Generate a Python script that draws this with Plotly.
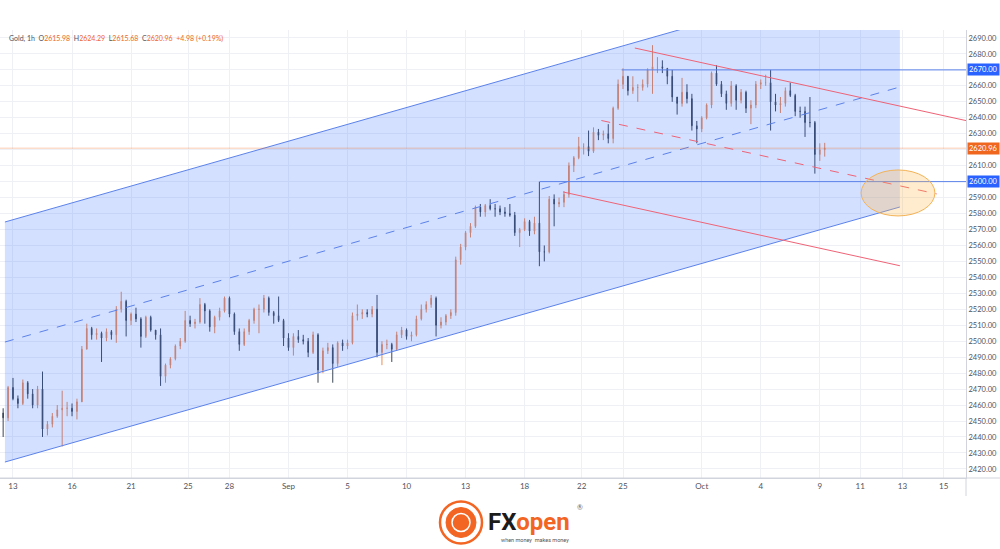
import plotly.graph_objects as go

# ---------------- data (6-hour bars) ----------------
first_open = 2455.0
closes = [2452, 2471, 2464, 2461, 2474, 2467, 2460, 2470, 2445, 2448,
          2453, 2457, 2458, 2458, 2456, 2462, 2495, 2508, 2504, 2505,
          2502, 2506, 2504, 2520, 2525, 2513, 2517, 2514, 2503, 2515,
          2507, 2504, 2478, 2485, 2489, 2497, 2500, 2513, 2511, 2512,
          2523, 2519, 2509, 2515, 2519, 2527, 2517, 2506, 2498, 2506,
          2513, 2520, 2520, 2527, 2518, 2516, 2513, 2502, 2496, 2503,
          2501, 2500, 2493, 2504, 2482, 2494, 2496, 2486, 2499, 2497,
          2499, 2516, 2517, 2518, 2517, 2520, 2493, 2498, 2498, 2495,
          2504, 2507, 2503, 2504, 2514, 2520, 2523, 2527, 2510, 2512,
          2516, 2518, 2551, 2559, 2568, 2572, 2584, 2581, 2585, 2583,
          2583, 2581, 2580, 2579, 2568, 2570, 2575, 2569, 2574, 2556,
          2556, 2589, 2586, 2587, 2592, 2610, 2615, 2622, 2622, 2619,
          2631, 2629, 2630, 2627, 2646, 2661, 2666, 2657, 2659, 2659,
          2661, 2670, 2672, 2672, 2671, 2666, 2653, 2649, 2656, 2652,
          2635, 2633, 2640, 2648, 2668, 2661, 2655, 2649, 2660, 2651,
          2656, 2646, 2648, 2661, 2662, 2662, 2650, 2648, 2649, 2657,
          2654, 2644, 2644, 2637, 2637, 2617, 2620, 2620.96]
highs = [2458, 2472, 2477, 2466, 2476, 2475, 2470, 2472, 2481, 2450,
         2455, 2460, 2469, 2462, 2461, 2464, 2497, 2511, 2509, 2508,
         2506, 2508, 2507, 2522, 2531, 2526, 2518, 2521, 2515, 2516,
         2516, 2507, 2508, 2486, 2490, 2498, 2502, 2519, 2516, 2514,
         2527, 2524, 2520, 2516, 2521, 2528, 2528, 2518, 2508, 2508,
         2514, 2521, 2523, 2529, 2528, 2519, 2528, 2514, 2505, 2505,
         2507, 2504, 2502, 2506, 2505, 2496, 2499, 2498, 2500, 2501,
         2501, 2518, 2523, 2520, 2520, 2522, 2529, 2500, 2501, 2499,
         2506, 2509, 2508, 2506, 2516, 2523, 2525, 2529, 2528, 2515,
         2517, 2520, 2553, 2561, 2569, 2574, 2585, 2586, 2586, 2589,
         2586, 2585, 2584, 2586, 2581, 2571, 2577, 2576, 2578, 2600,
         2560, 2591, 2592, 2590, 2594, 2612, 2616, 2628, 2624, 2632,
         2634, 2633, 2632, 2636, 2647, 2664, 2671, 2666, 2666, 2661,
         2664, 2671, 2685.5, 2678, 2676, 2671, 2670, 2653, 2665, 2661,
         2655, 2638, 2641, 2649, 2669, 2673, 2663, 2657, 2663, 2661,
         2658, 2657, 2651, 2663, 2664, 2667, 2670, 2655, 2653, 2659,
         2662, 2655, 2647, 2647, 2653, 2638, 2624, 2624.29]
lows = [2440, 2450, 2463, 2458, 2460, 2464, 2458, 2458, 2440, 2441,
        2446, 2452, 2434, 2453, 2453, 2451, 2462, 2495, 2501, 2501,
        2487, 2500, 2501, 2499, 2518, 2503, 2510, 2512, 2496, 2502,
        2506, 2501, 2472, 2474, 2483, 2488, 2495, 2499, 2509, 2508,
        2511, 2511, 2506, 2505, 2513, 2518, 2515, 2504, 2494, 2497,
        2504, 2511, 2505, 2518, 2516, 2511, 2512, 2497, 2494, 2491,
        2499, 2498, 2490, 2492, 2474, 2480, 2492, 2474, 2484, 2494,
        2495, 2498, 2513, 2514, 2515, 2515, 2490, 2485, 2495, 2487,
        2494, 2502, 2501, 2500, 2503, 2513, 2518, 2521, 2503, 2508,
        2510, 2514, 2516, 2548, 2557, 2565, 2571, 2578, 2578, 2582,
        2578, 2579, 2578, 2578, 2566, 2559, 2569, 2566, 2567, 2547,
        2550, 2555, 2572, 2584, 2584, 2590, 2606, 2614, 2617, 2616,
        2618, 2626, 2626, 2624, 2624, 2645, 2658, 2654, 2655, 2650,
        2657, 2659, 2655, 2668, 2668, 2661, 2650, 2642, 2647, 2649,
        2632, 2624, 2631, 2639, 2646, 2660, 2653, 2645, 2647, 2645,
        2649, 2643, 2636, 2646, 2658, 2660, 2632, 2644, 2643, 2647,
        2653, 2641, 2640, 2628, 2634, 2605, 2613, 2615.68]
opens = [first_open] + closes[:-1]
bar_days = [-0.5 + 0.25 * i for i in range(len(closes))]   # trading-day index

# drawings (trading-day index, price)
channel_days = [-0.41, 45.07]
channel_lower = [2424.3, 2584.1]
channel_mid = [2499.5, 2659.3]
channel_upper = [2574.7, 2734.5]

red_upper_days = [31.6, 49.0]
red_upper = [2683.7, 2636.7]
red_mid_days = [29.9, 46.94]
red_mid = [2638.3, 2592.3]
red_lower_days = [27.96, 45.07]
red_lower = [2593.5, 2547.3]

level_prices = [2670.0, 2600.0]
level_start_days = [30.93, 26.78]
last_price = 2620.96
zone_days = [43.1, 46.85]
zone_prices = [2578.5, 2607.3]

tick_labels = ["13", "16", "21", "25", "28", "Sep", "5", "10", "13", "18",
               "22", "25", "Oct", "4", "9", "11", "13", "15"]
tick_days = [0, 3, 6, 8.9, 11, 14, 17, 20, 23, 26, 28.9, 31, 35, 38, 41,
             43.05, 45.2, 47.3]
price_ticks = list(range(2420, 2700, 10))

X_RANGE = [-0.66, 48.43]
Y_RANGE = [2414.3, 2695.0]

BLUE = "#5b82ea"
RED = "#ee6376"
UP = "#ec8b55"
DOWN = "#3d4757"
ORANGE = "#f0661e"

fig = go.Figure()

# channel fill
fig.add_trace(go.Scatter(
    x=[channel_days[0], channel_days[1], channel_days[1], channel_days[0]],
    y=[channel_lower[0], channel_lower[1], channel_upper[1], channel_upper[0]],
    fill="toself", fillcolor="rgba(41,98,255,0.2)", line=dict(width=0),
    mode="lines", hoverinfo="skip", showlegend=False))
fig.add_trace(go.Scatter(x=channel_days, y=channel_lower, mode="lines",
                         line=dict(color=BLUE, width=1), showlegend=False, hoverinfo="skip"))
fig.add_trace(go.Scatter(x=channel_days, y=channel_upper, mode="lines",
                         line=dict(color=BLUE, width=1), showlegend=False, hoverinfo="skip"))
fig.add_trace(go.Scatter(x=channel_days, y=channel_mid, mode="lines",
                         line=dict(color=BLUE, width=1, dash="dash"), showlegend=False, hoverinfo="skip"))

# last price line
fig.add_trace(go.Scatter(x=X_RANGE, y=[last_price, last_price], mode="lines",
                         line=dict(color="rgba(240,102,30,0.35)", width=1),
                         showlegend=False, hoverinfo="skip"))

# horizontal levels
for lp, ls in zip(level_prices, level_start_days):
    fig.add_trace(go.Scatter(x=[ls, X_RANGE[1]], y=[lp, lp], mode="lines",
                             line=dict(color=BLUE, width=1), showlegend=False, hoverinfo="skip"))

# red channel
fig.add_trace(go.Scatter(x=red_upper_days, y=red_upper, mode="lines",
                         line=dict(color=RED, width=1), showlegend=False, hoverinfo="skip"))
fig.add_trace(go.Scatter(x=red_mid_days, y=red_mid, mode="lines",
                         line=dict(color=RED, width=1, dash="dash"), showlegend=False, hoverinfo="skip"))
fig.add_trace(go.Scatter(x=red_lower_days, y=red_lower, mode="lines",
                         line=dict(color=RED, width=1), showlegend=False, hoverinfo="skip"))

# candles
fig.add_trace(go.Candlestick(
    x=bar_days, open=opens, high=highs, low=lows, close=closes,
    increasing=dict(line=dict(color=UP, width=1), fillcolor=UP),
    decreasing=dict(line=dict(color=DOWN, width=1), fillcolor=DOWN),
    whiskerwidth=0, showlegend=False))

# target zone ellipse
fig.add_shape(type="circle", xref="x", yref="y",
              x0=zone_days[0], x1=zone_days[1], y0=zone_prices[0], y1=zone_prices[1],
              fillcolor="rgba(255,183,77,0.28)", line=dict(color="#f3b356", width=1))

# ---------------- layout ----------------
PW, PH, PT = 966.0, 448.0, 30.0


def px(xp):
    return xp / PW


def py(yp):
    return (PT + PH - yp) / PH


fig.update_layout(
    width=1000, height=549,
    margin=dict(l=0, r=34, t=30, b=71),
    paper_bgcolor="white", plot_bgcolor="white",
    showlegend=False, boxgap=0.8,
    font=dict(family="Lato, Noto Sans, sans-serif", color="#50535e"),
    xaxis=dict(range=X_RANGE, tickmode="array", tickvals=tick_days, ticktext=tick_labels,
               showgrid=True, gridcolor="#eef0f5", gridwidth=1, zeroline=False,
               showline=True, linecolor="#d1d4dc", ticks="", ticklen=0,
               tickfont=dict(size=8, color="#50535e"),
               rangeslider=dict(visible=False), fixedrange=True),
    yaxis=dict(range=Y_RANGE, side="right", tickmode="array", tickvals=price_ticks,
               ticktext=["%.2f" % v for v in price_ticks],
               showgrid=True, gridcolor="#eef0f5", gridwidth=1, zeroline=False,
               showline=True, linecolor="#d1d4dc", ticks="", ticklen=0,
               tickfont=dict(size=7.5, color="#50535e"),
               fixedrange=True),
)

# axis extension lines
fig.add_shape(type="line", xref="paper", yref="paper", x0=0, x1=px(1000), y0=0, y1=0,
              line=dict(color="#d1d4dc", width=1))
fig.add_shape(type="line", xref="paper", yref="paper", x0=1, x1=1, y0=py(496), y1=0,
              line=dict(color="#d1d4dc", width=1))

# price labels on the axis
for txt, yv, bg in [("2670.00", 2670.0, "#2962ff"), ("2620.96", last_price, ORANGE),
                    ("2600.00", 2600.0, "#2962ff")]:
    fig.add_annotation(xref="paper", yref="y", x=1, y=yv, xanchor="left", yanchor="middle",
                       xshift=1, text=txt, showarrow=False, bgcolor=bg, borderpad=1,
                       font=dict(size=7.5, color="white"))

# header
hdr = ("<span style='color:#50535e'>Gold, 1h</span>  "
       "<span style='color:#50535e'>O</span><span style='color:#f0661e'>2615.98</span>  "
       "<span style='color:#50535e'>H</span><span style='color:#f0661e'>2624.29</span>  "
       "<span style='color:#50535e'>L</span><span style='color:#f0661e'>2615.68</span>  "
       "<span style='color:#50535e'>C</span><span style='color:#f0661e'>2620.96</span>  "
       "<span style='color:#f0661e'>+4.98 (+0.19%)</span>")
fig.add_annotation(xref="paper", yref="paper", x=px(7), y=py(39), xanchor="left", yanchor="middle",
                   text=hdr, showarrow=False, font=dict(size=7))

# logo
fig.add_shape(type="circle", xref="paper", yref="paper",
              x0=px(440), x1=px(482), y0=py(543.5), y1=py(501.5),
              fillcolor="white", line=dict(color="#f26522", width=2.5))
fig.add_shape(type="circle", xref="paper", yref="paper",
              x0=px(446), x1=px(476), y0=py(537.5), y1=py(507.5),
              fillcolor="#f26522", line=dict(color="#f26522", width=1))
fig.add_shape(type="circle", xref="paper", yref="paper",
              x0=px(452), x1=px(470), y0=py(531.5), y1=py(513.5),
              fillcolor="rgba(0,0,0,0)", line=dict(color="white", width=1.5))
fig.add_annotation(xref="paper", yref="paper", x=px(529), y=py(522), xanchor="center", yanchor="middle",
                   text="<b><span style='color:#1b1b1b'>FX</span><span style='color:#f26522'>open</span></b>",
                   showarrow=False, font=dict(size=24, family="Roboto, Arial, sans-serif"))
fig.add_annotation(xref="paper", yref="paper", x=px(580), y=py(507), xanchor="center", yanchor="middle",
                   text="®", showarrow=False, font=dict(size=7, color="#666"))
fig.add_annotation(xref="paper", yref="paper", x=px(535), y=py(540), xanchor="center", yanchor="middle",
                   text="when money  makes money", showarrow=False,
                   font=dict(size=5.5, color="#555", family="Roboto, Arial, sans-serif"))

fig.write_html("out.html", config={"displayModeBar": False},
               post_script="document.body.style.margin='0';document.body.style.overflow='hidden';")
